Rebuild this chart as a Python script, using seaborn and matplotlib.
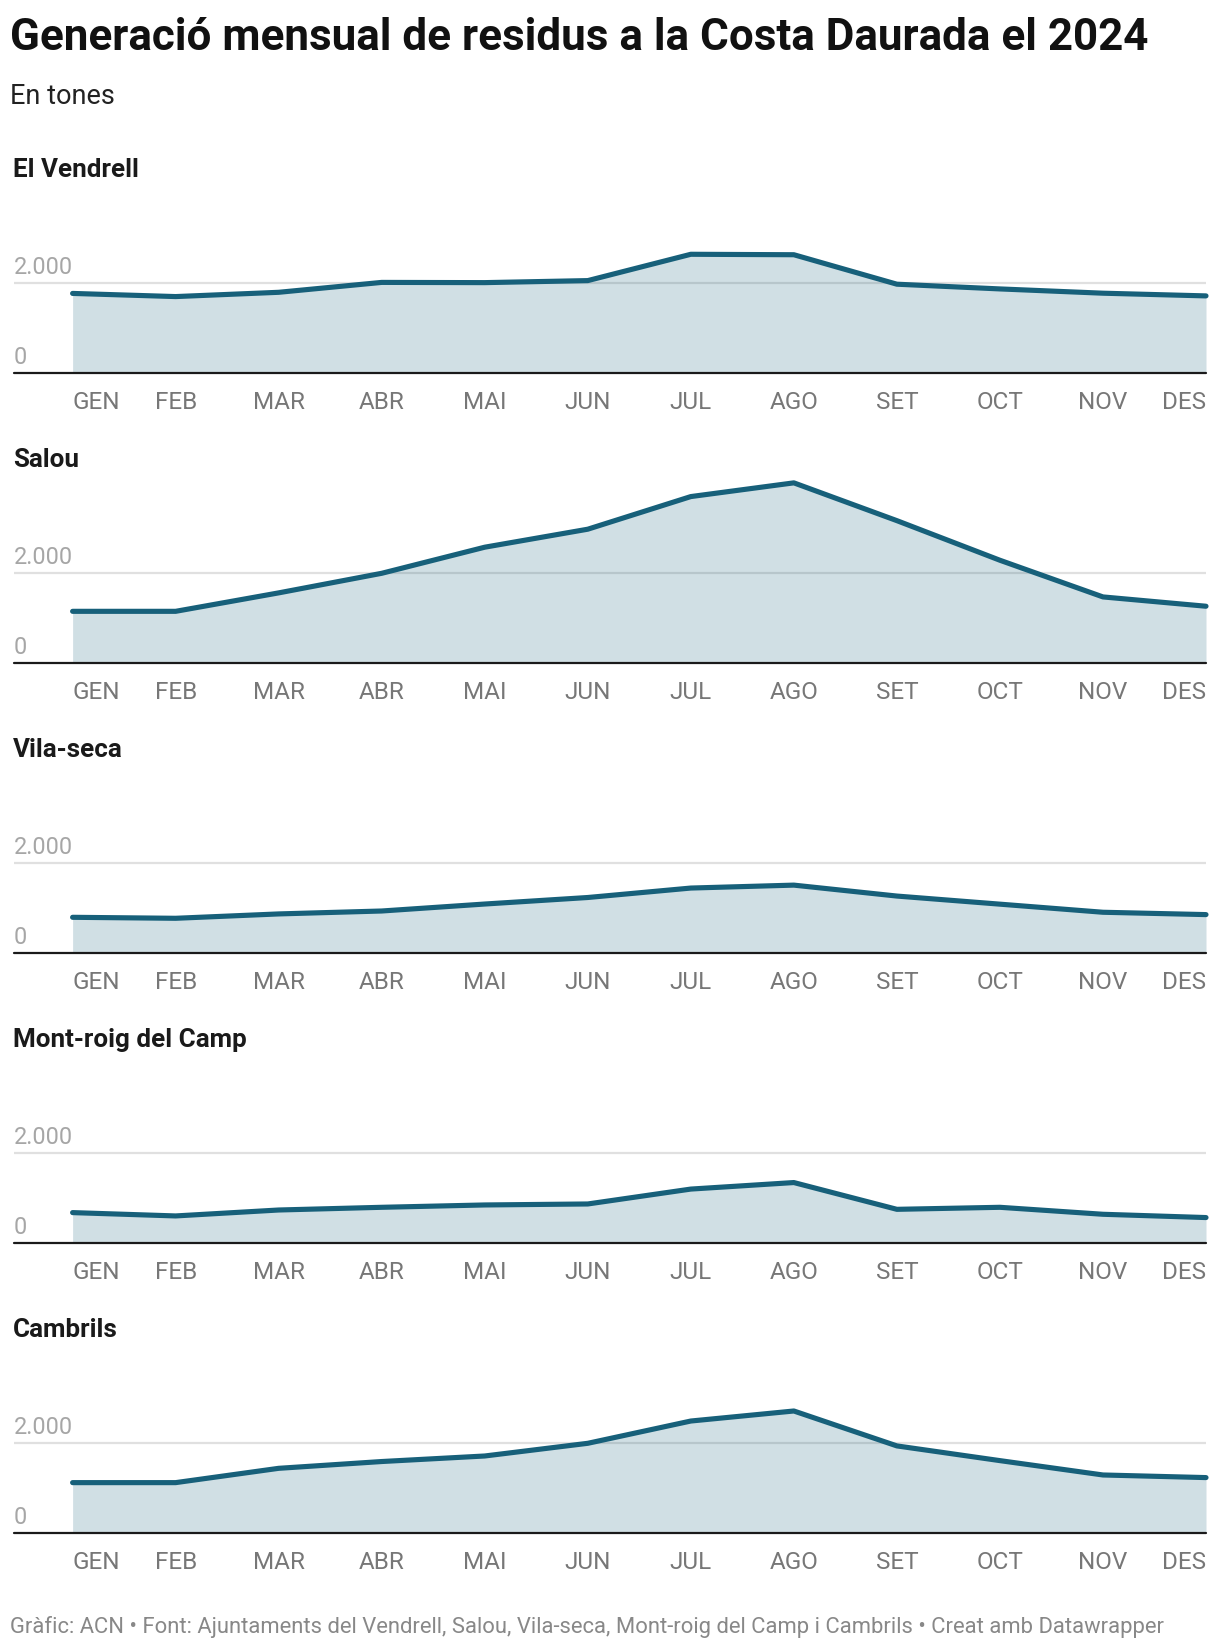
import numpy as np
import pandas as pd
import seaborn as sns
import matplotlib.pyplot as plt

# dades (tones per mes), llegides del gràfic
mesos = ["GEN", "FEB", "MAR", "ABR", "MAI", "JUN", "JUL", "AGO", "SET", "OCT", "NOV", "DES"]
municipis = ["El Vendrell", "Salou", "Vila-seca", "Mont-roig del Camp", "Cambrils"]

vendrell = [1775, 1705, 1800, 2020, 2015, 2060, 2645, 2635, 1980, 1875, 1780, 1720]
salou = [1155, 1155, 1565, 2000, 2580, 2980, 3705, 4010, 3170, 2290, 1475, 1268]
vilaseca = [800, 778, 875, 940, 1095, 1240, 1450, 1515, 1272, 1092, 912, 860]
montroig = [682, 608, 740, 800, 852, 874, 1205, 1350, 755, 800, 645, 572]
cambrils = [1126, 1126, 1444, 1595, 1718, 2000, 2495, 2718, 1942, 1615, 1296, 1238]

series = [vendrell, salou, vilaseca, montroig, cambrils]
yticks = [0, 2000]
ytick_labels = ["0", "2.000"]

sns.set_theme(style="white")
plt.rcParams['font.family'] = ['Roboto', 'DejaVu Sans']

W, H = 1220, 1650
fig = plt.figure(figsize=(W / 100, H / 100), dpi=100)

line_c = "#17607a"
ymax = 4100
px_per_unit = 0.045

fig.text(10 / W, 1 - 50 / H, "Generació mensual de residus a la Costa Daurada el 2024",
         fontsize=31.7, fontweight="bold", color="#111111", va="baseline", ha="left")
fig.text(10 / W, 1 - 104 / H, "En tones", fontsize=19.5, color="#222222",
         va="baseline", ha="left")

left_px, right_px, first_px = 14, 1206, 72.6
step = (right_px - first_px) / 11
x_left = -(first_px - left_px) / step

for i, (nom, vals) in enumerate(zip(municipis, series)):
    base_px = 373.3 + 290 * i
    h_px = ymax * px_per_unit
    ax = fig.add_axes([left_px / W, 1 - base_px / H, (right_px - left_px) / W, h_px / H])
    df = pd.DataFrame({"x": np.arange(len(mesos)), "tones": vals})

    ax.axhline(2000, color="#e0e0e0", lw=1.6, zorder=1)
    ax.fill_between(df["x"], 0, df["tones"], color=line_c, alpha=0.2, lw=0, zorder=2)
    sns.lineplot(data=df, x="x", y="tones", ax=ax, color=line_c, lw=3.7,
                 zorder=3, clip_on=False)
    ax.axhline(0, color="#1a1a1a", lw=1.6, zorder=4, clip_on=False)

    ax.set_xlim(x_left, 11)
    ax.set_ylim(0, ymax)
    for s in ax.spines.values():
        s.set_visible(False)
    ax.set_xlabel("")
    ax.set_ylabel("")
    ax.set_yticks([])
    ax.set_xticks(df["x"], mesos)
    ax.tick_params(axis="x", length=0, pad=13, labelsize=17.5, labelcolor="#777777")
    labs = ax.get_xticklabels()
    labs[0].set_ha("left")
    labs[-1].set_ha("right")

    for v, lab in zip(yticks, ytick_labels):
        ax.annotate(lab, (0, v), xycoords=ax.get_yaxis_transform(), xytext=(0, 6.8),
                    textcoords="offset points", ha="left", va="baseline",
                    fontsize=16.9, color="#a6a6a6")

    fig.text(13 / W, 1 - (base_px - 196) / H, nom, fontsize=18.7, fontweight="bold",
             color="#1a1a1a", va="baseline", ha="left")

fig.text(10 / W, 1 - 1633 / H,
         "Gràfic: ACN • Font: Ajuntaments del Vendrell, Salou, Vila-seca, Mont-roig del Camp i Cambrils • Creat amb Datawrapper",
         fontsize=15.8, color="#888888", va="baseline", ha="left")

fig.savefig("out.png", dpi=100)
